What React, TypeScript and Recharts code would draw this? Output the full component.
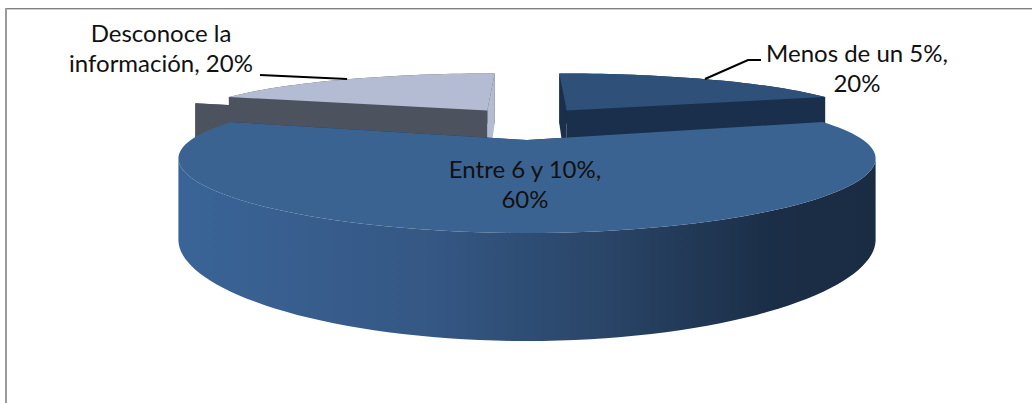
import { PieChart, Pie } from "recharts";

const categories = ["Menos de un 5%", "Entre 6 y 10%", "Más de 10%", "Desconoce la información"];
const percents = [20, 60, 0, 20];
const topColors = ["#2E5079", "#3B6392", "#555C68", "#B3BCD2"];
const wallColors = ["#1A2F4B", "url(#wall)", "#4C535F", "#4C535F"];
const startCutColors = ["#1A2F4B", "#1A2F4B", "#4C535F", "#4C535F"];
const endCutColors = ["#1A2F4B", "#1A2F4B", "#4C535F", "#B3BCD2"];

const tableData = categories.map((name, i) => ({ name, value: percents[i] }));

// perspective of the tilted pie
const CX = 527;
const CY = 122.5;
const RADIUS = 311.5;
const SQUASH = 53.5 / RADIUS;
const PERSPECTIVE_X = 0.245 / RADIUS;
const PERSPECTIVE_Y = 0.285 / RADIUS;
const EXPLODE_X = 0.23 * RADIUS;
const EXPLODE_Y = 0.3 * RADIUS;
const DEPTH = 68;
const BIG_SLICE = 1;

const project = (u: number, v: number, z = 0) => [
  CX + u / (1 - PERSPECTIVE_X * v),
  CY + (SQUASH * v + z) / (1 - PERSPECTIVE_Y * v),
];

const toPath = (pts: number[][]) =>
  "M" + pts.map((p) => `${p[0].toFixed(1)},${p[1].toFixed(1)}`).join("L") + "Z";

const Slice3D = (props: any) => {
  const { startAngle, endAngle, outerRadius, index, front } = props;
  if ((index === BIG_SLICE) !== front) return <g />;

  const rad = (a: number) => (a * Math.PI) / 180;
  const mid = rad((startAngle + endAngle) / 2);
  const ou = EXPLODE_X * Math.cos(mid);
  const ov = -EXPLODE_Y * Math.sin(mid);
  const at = (a: number, r: number, z = 0) =>
    project(ou + r * Math.cos(rad(a)), ov - r * Math.sin(rad(a)), z);

  const steps = Math.max(2, Math.ceil(Math.abs(endAngle - startAngle) / 2));
  const angles = Array.from({ length: steps + 1 }, (_, i) => startAngle + ((endAngle - startAngle) * i) / steps);
  const rim = angles.map((a) => at(a, outerRadius));

  // the outer wall only runs between the two horizontal extremes of the rim
  const xs = rim.map((p) => p[0]);
  const iMax = xs.indexOf(Math.max(...xs));
  const iMin = xs.indexOf(Math.min(...xs));
  const front3d = angles.slice(Math.min(iMax, iMin), Math.max(iMax, iMin) + 1);
  const wallTop = front3d.map((a) => at(a, outerRadius));
  const wallLow = front3d.map((a) => at(a, outerRadius, DEPTH)).reverse();

  const apex = at(startAngle, 0);
  const apexLow = at(startAngle, 0, DEPTH);
  const cut = (a: number) => toPath([apex, at(a, outerRadius), at(a, outerRadius, DEPTH), apexLow]);

  return (
    <g>
      <path d={toPath([...wallTop, ...wallLow])} fill={wallColors[index]} />
      <path d={cut(endAngle)} fill={endCutColors[index]} />
      <path d={cut(startAngle)} fill={startCutColors[index]} />
      <path d={toPath([apex, ...rim])} fill={topColors[index]} />
    </g>
  );
};

const labelLines: Record<number, string[]> = {
  0: ["Menos de un 5%,"],
  1: ["Entre 6 y 10%,"],
  3: ["Desconoce la", "información, 20%"],
};
const labelAnchors: Record<number, number[]> = {
  0: [857, 62],
  1: [525, 178],
  3: [161, 42],
};
const leaders: Record<number, string> = {
  0: "705,79 748,60 761,60",
  3: "260,75 347,79",
};

const SliceLabel = ({ index, value }: any) => {
  const lines = labelLines[index];
  if (!lines) return <g />;
  const [x, y] = labelAnchors[index];
  const rows = index === 3 ? lines : [...lines, `${value}%`];
  return (
    <g>
      {leaders[index] && <polyline points={leaders[index]} fill="none" stroke="#000" strokeWidth={2} />}
      <text x={x} y={y} textAnchor="middle" fontFamily="Lato" fontSize={24} fill="#111">
        {rows.map((row, i) => (
          <tspan key={row} x={x} dy={i === 0 ? 0 : 30}>
            {row}
          </tspan>
        ))}
      </text>
    </g>
  );
};

export default function App() {
  return (
    <div style={{ position: "absolute", left: 0, top: 0, width: 1032, height: 403, background: "#fff", overflow: "hidden" }}>
      <div style={{ position: "absolute", left: 5, top: 8, width: 1027, height: 1, background: "#808080" }} />
      <div style={{ position: "absolute", left: 5, top: 9, width: 1027, height: 1, background: "#d0d0d0" }} />
      <div style={{ position: "absolute", left: 5, top: 8, width: 2, height: 395, background: "#9a9a9a" }} />
      <PieChart width={1032} height={403} style={{ position: "absolute", left: 0, top: 0 }} margin={{ top: 0, right: 0, bottom: 0, left: 0 }}>
        <defs>
          <linearGradient id="wall" gradientUnits="userSpaceOnUse" x1={178} y1={0} x2={875} y2={0}>
            <stop offset="0" stopColor="#3A6497" />
            <stop offset="0.35" stopColor="#355885" />
            <stop offset="0.6" stopColor="#2A4669" />
            <stop offset="0.85" stopColor="#1B2E47" />
            <stop offset="1" stopColor="#1A2C42" />
          </linearGradient>
        </defs>
        <Pie
          data={tableData}
          dataKey="value"
          nameKey="name"
          cx={CX}
          cy={CY}
          outerRadius={RADIUS}
          startAngle={90}
          endAngle={-270}
          stroke="none"
          isAnimationActive={false}
          shape={(p: any) => <Slice3D {...p} front={false} />}
        />
        <Pie
          data={tableData}
          dataKey="value"
          nameKey="name"
          cx={CX}
          cy={CY}
          outerRadius={RADIUS}
          startAngle={90}
          endAngle={-270}
          stroke="none"
          isAnimationActive={false}
          labelLine={false}
          label={(p: any) => <SliceLabel {...p} />}
          shape={(p: any) => <Slice3D {...p} front={true} />}
        />
      </PieChart>
    </div>
  );
}
